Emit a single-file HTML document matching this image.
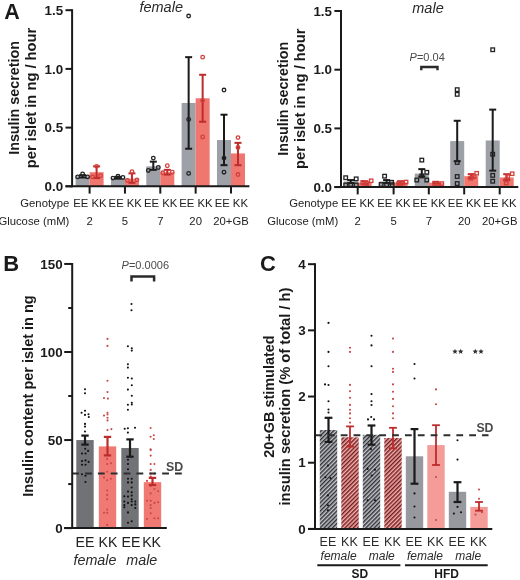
<!DOCTYPE html><html><head><meta charset="utf-8"><title>Figure</title>
<style>html,body{margin:0;padding:0;background:#fff;}svg{display:block;filter:blur(0.3px);}text{font-family:"Liberation Sans", sans-serif;}</style></head><body>
<svg width="520" height="580" viewBox="0 0 520 580">
<defs><pattern id="hg" patternUnits="userSpaceOnUse" width="2.95" height="10" patternTransform="rotate(45)"><rect width="2.95" height="10" fill="#c3c5cc"/><rect width="1.45" height="10" fill="#303135"/></pattern><pattern id="hr" patternUnits="userSpaceOnUse" width="2.95" height="10" patternTransform="rotate(45)"><rect width="2.95" height="10" fill="#f7b0ad"/><rect width="1.45" height="10" fill="#6e1d20"/></pattern></defs>
<rect width="520" height="580" fill="#fff"/>
<text x="4.20" y="19.30" font-size="21.5" text-anchor="start" font-weight="bold" font-style="normal" fill="#1a1a1a" >A</text>
<text x="3.20" y="271.30" font-size="22" text-anchor="start" font-weight="bold" font-style="normal" fill="#1a1a1a" >B</text>
<text x="260.00" y="271.20" font-size="22" text-anchor="start" font-weight="bold" font-style="normal" fill="#1a1a1a" >C</text>
<text x="18.90" y="97.95" font-size="14.2" text-anchor="middle" font-weight="bold" font-style="normal" fill="#1a1a1a" textLength="113.8" lengthAdjust="spacingAndGlyphs" transform="rotate(-90 18.90 97.95)">Insulin secretion</text>
<text x="36.30" y="97.95" font-size="14.2" text-anchor="middle" font-weight="bold" font-style="normal" fill="#1a1a1a" textLength="140.4" lengthAdjust="spacingAndGlyphs" transform="rotate(-90 36.30 97.95)">per islet in ng / hour</text>
<text x="161.20" y="12.40" font-size="14.5" text-anchor="middle" font-weight="normal" font-style="italic" fill="#2a2a2a" >female</text>
<text x="63.10" y="14.80" font-size="13.4" text-anchor="end" font-weight="bold" font-style="normal" fill="#1a1a1a" >1.5</text>
<text x="63.10" y="73.50" font-size="13.4" text-anchor="end" font-weight="bold" font-style="normal" fill="#1a1a1a" >1.0</text>
<text x="63.10" y="132.20" font-size="13.4" text-anchor="end" font-weight="bold" font-style="normal" fill="#1a1a1a" >0.5</text>
<text x="63.10" y="190.90" font-size="13.4" text-anchor="end" font-weight="bold" font-style="normal" fill="#1a1a1a" >0.0</text>
<text x="89.90" y="206.60" font-size="11.3" text-anchor="middle" font-weight="normal" font-style="normal" fill="#222" >EE KK</text>
<text x="125.25" y="206.60" font-size="11.3" text-anchor="middle" font-weight="normal" font-style="normal" fill="#222" >EE KK</text>
<text x="160.60" y="206.60" font-size="11.3" text-anchor="middle" font-weight="normal" font-style="normal" fill="#222" >EE KK</text>
<text x="195.95" y="206.60" font-size="11.3" text-anchor="middle" font-weight="normal" font-style="normal" fill="#222" >EE KK</text>
<text x="231.30" y="206.60" font-size="11.3" text-anchor="middle" font-weight="normal" font-style="normal" fill="#222" >EE KK</text>
<text x="89.60" y="225.40" font-size="11.3" text-anchor="middle" font-weight="normal" font-style="normal" fill="#222" >2</text>
<text x="124.95" y="225.40" font-size="11.3" text-anchor="middle" font-weight="normal" font-style="normal" fill="#222" >5</text>
<text x="160.30" y="225.40" font-size="11.3" text-anchor="middle" font-weight="normal" font-style="normal" fill="#222" >7</text>
<text x="195.65" y="225.40" font-size="11.3" text-anchor="middle" font-weight="normal" font-style="normal" fill="#222" >20</text>
<text x="231.00" y="225.40" font-size="11.3" text-anchor="middle" font-weight="normal" font-style="normal" fill="#222" >20+GB</text>
<text x="69.30" y="206.60" font-size="11.3" text-anchor="end" font-weight="normal" font-style="normal" fill="#222" >Genotype</text>
<text x="69.30" y="225.40" font-size="11.3" text-anchor="end" font-weight="normal" font-style="normal" fill="#222" >Glucose (mM)</text>
<rect x="75.60" y="176.32" width="14.00" height="9.98" fill="#9da0a6"/>
<rect x="89.60" y="172.21" width="14.00" height="14.09" fill="#f07770"/>
<rect x="110.95" y="177.85" width="14.00" height="8.45" fill="#9da0a6"/>
<rect x="124.95" y="178.67" width="14.00" height="7.63" fill="#f07770"/>
<rect x="146.30" y="166.34" width="14.00" height="19.96" fill="#9da0a6"/>
<rect x="160.30" y="172.21" width="14.00" height="14.09" fill="#f07770"/>
<rect x="181.65" y="102.95" width="14.00" height="83.35" fill="#9da0a6"/>
<rect x="195.65" y="98.25" width="14.00" height="88.05" fill="#f07770"/>
<rect x="217.00" y="140.04" width="14.00" height="46.26" fill="#9da0a6"/>
<rect x="231.00" y="153.43" width="14.00" height="32.87" fill="#f07770"/>
<line x1="82.60" y1="175.15" x2="82.60" y2="177.50" stroke="#1a1a1a" stroke-width="2.0" />
<line x1="79.10" y1="175.15" x2="86.10" y2="175.15" stroke="#1a1a1a" stroke-width="2.0" />
<line x1="79.10" y1="177.50" x2="86.10" y2="177.50" stroke="#1a1a1a" stroke-width="2.0" />
<line x1="96.60" y1="166.34" x2="96.60" y2="178.08" stroke="#bd2c2c" stroke-width="2.0" />
<line x1="93.10" y1="166.34" x2="100.10" y2="166.34" stroke="#bd2c2c" stroke-width="2.0" />
<line x1="93.10" y1="178.08" x2="100.10" y2="178.08" stroke="#bd2c2c" stroke-width="2.0" />
<line x1="117.95" y1="176.91" x2="117.95" y2="178.67" stroke="#1a1a1a" stroke-width="2.0" />
<line x1="114.45" y1="176.91" x2="121.45" y2="176.91" stroke="#1a1a1a" stroke-width="2.0" />
<line x1="114.45" y1="178.67" x2="121.45" y2="178.67" stroke="#1a1a1a" stroke-width="2.0" />
<line x1="131.95" y1="173.39" x2="131.95" y2="182.78" stroke="#bd2c2c" stroke-width="2.0" />
<line x1="128.45" y1="173.39" x2="135.45" y2="173.39" stroke="#bd2c2c" stroke-width="2.0" />
<line x1="128.45" y1="182.78" x2="135.45" y2="182.78" stroke="#bd2c2c" stroke-width="2.0" />
<line x1="153.30" y1="161.65" x2="153.30" y2="169.86" stroke="#1a1a1a" stroke-width="2.0" />
<line x1="149.80" y1="161.65" x2="156.80" y2="161.65" stroke="#1a1a1a" stroke-width="2.0" />
<line x1="149.80" y1="169.86" x2="156.80" y2="169.86" stroke="#1a1a1a" stroke-width="2.0" />
<line x1="167.30" y1="169.86" x2="167.30" y2="174.56" stroke="#bd2c2c" stroke-width="2.0" />
<line x1="163.80" y1="169.86" x2="170.80" y2="169.86" stroke="#bd2c2c" stroke-width="2.0" />
<line x1="163.80" y1="174.56" x2="170.80" y2="174.56" stroke="#bd2c2c" stroke-width="2.0" />
<line x1="188.65" y1="57.16" x2="188.65" y2="148.73" stroke="#1a1a1a" stroke-width="2.0" />
<line x1="185.15" y1="57.16" x2="192.15" y2="57.16" stroke="#1a1a1a" stroke-width="2.0" />
<line x1="185.15" y1="148.73" x2="192.15" y2="148.73" stroke="#1a1a1a" stroke-width="2.0" />
<line x1="202.65" y1="74.77" x2="202.65" y2="121.73" stroke="#bd2c2c" stroke-width="2.0" />
<line x1="199.15" y1="74.77" x2="206.15" y2="74.77" stroke="#bd2c2c" stroke-width="2.0" />
<line x1="199.15" y1="121.73" x2="206.15" y2="121.73" stroke="#bd2c2c" stroke-width="2.0" />
<line x1="224.00" y1="114.69" x2="224.00" y2="165.17" stroke="#1a1a1a" stroke-width="2.0" />
<line x1="220.50" y1="114.69" x2="227.50" y2="114.69" stroke="#1a1a1a" stroke-width="2.0" />
<line x1="220.50" y1="165.17" x2="227.50" y2="165.17" stroke="#1a1a1a" stroke-width="2.0" />
<line x1="238.00" y1="142.86" x2="238.00" y2="165.17" stroke="#bd2c2c" stroke-width="2.0" />
<line x1="234.50" y1="142.86" x2="241.50" y2="142.86" stroke="#bd2c2c" stroke-width="2.0" />
<line x1="234.50" y1="165.17" x2="241.50" y2="165.17" stroke="#bd2c2c" stroke-width="2.0" />
<circle cx="77.60" cy="176.91" r="1.8" fill="none" stroke="#222" stroke-width="1.3"/>
<circle cx="82.60" cy="173.97" r="1.8" fill="none" stroke="#222" stroke-width="1.3"/>
<circle cx="87.60" cy="176.91" r="1.8" fill="none" stroke="#222" stroke-width="1.3"/>
<circle cx="112.95" cy="178.08" r="1.8" fill="none" stroke="#222" stroke-width="1.3"/>
<circle cx="117.95" cy="176.32" r="1.8" fill="none" stroke="#222" stroke-width="1.3"/>
<circle cx="122.95" cy="177.50" r="1.8" fill="none" stroke="#222" stroke-width="1.3"/>
<circle cx="148.30" cy="170.45" r="1.8" fill="none" stroke="#222" stroke-width="1.3"/>
<circle cx="153.30" cy="158.12" r="1.8" fill="none" stroke="#222" stroke-width="1.3"/>
<circle cx="158.30" cy="167.52" r="1.8" fill="none" stroke="#222" stroke-width="1.3"/>
<circle cx="188.65" cy="16.07" r="1.8" fill="none" stroke="#222" stroke-width="1.3"/>
<circle cx="188.65" cy="119.38" r="1.8" fill="none" stroke="#222" stroke-width="1.3"/>
<circle cx="188.65" cy="173.39" r="1.8" fill="none" stroke="#222" stroke-width="1.3"/>
<circle cx="224.00" cy="90.03" r="1.8" fill="none" stroke="#222" stroke-width="1.3"/>
<circle cx="224.00" cy="158.12" r="1.8" fill="none" stroke="#222" stroke-width="1.3"/>
<circle cx="224.00" cy="172.21" r="1.8" fill="none" stroke="#222" stroke-width="1.3"/>
<circle cx="92.60" cy="176.91" r="1.8" fill="none" stroke="#d2403c" stroke-width="1.3"/>
<circle cx="96.60" cy="166.34" r="1.8" fill="none" stroke="#d2403c" stroke-width="1.3"/>
<circle cx="100.60" cy="175.73" r="1.8" fill="none" stroke="#d2403c" stroke-width="1.3"/>
<circle cx="127.45" cy="180.43" r="1.8" fill="none" stroke="#d2403c" stroke-width="1.3"/>
<circle cx="131.95" cy="171.62" r="1.8" fill="none" stroke="#d2403c" stroke-width="1.3"/>
<circle cx="136.95" cy="179.84" r="1.8" fill="none" stroke="#d2403c" stroke-width="1.3"/>
<circle cx="162.80" cy="172.80" r="1.8" fill="none" stroke="#d2403c" stroke-width="1.3"/>
<circle cx="167.30" cy="165.76" r="1.8" fill="none" stroke="#d2403c" stroke-width="1.3"/>
<circle cx="172.30" cy="172.21" r="1.8" fill="none" stroke="#d2403c" stroke-width="1.3"/>
<circle cx="202.65" cy="57.16" r="1.8" fill="none" stroke="#d2403c" stroke-width="1.3"/>
<circle cx="202.65" cy="136.99" r="1.8" fill="none" stroke="#d2403c" stroke-width="1.3"/>
<circle cx="202.65" cy="100.60" r="1.8" fill="none" stroke="#d2403c" stroke-width="1.3"/>
<circle cx="238.00" cy="137.58" r="1.8" fill="none" stroke="#d2403c" stroke-width="1.3"/>
<circle cx="238.00" cy="147.56" r="1.8" fill="none" stroke="#d2403c" stroke-width="1.3"/>
<circle cx="238.00" cy="174.56" r="1.8" fill="none" stroke="#d2403c" stroke-width="1.3"/>
<line x1="72.10" y1="9.20" x2="72.10" y2="187.30" stroke="#1a1a1a" stroke-width="2.0" />
<line x1="65.50" y1="10.20" x2="72.10" y2="10.20" stroke="#1a1a1a" stroke-width="2.0" />
<line x1="65.50" y1="68.90" x2="72.10" y2="68.90" stroke="#1a1a1a" stroke-width="2.0" />
<line x1="65.50" y1="127.60" x2="72.10" y2="127.60" stroke="#1a1a1a" stroke-width="2.0" />
<line x1="65.50" y1="186.30" x2="72.10" y2="186.30" stroke="#1a1a1a" stroke-width="2.0" />
<line x1="65.50" y1="186.30" x2="249.40" y2="186.30" stroke="#1a1a1a" stroke-width="2.0" />
<line x1="89.60" y1="186.30" x2="89.60" y2="193.60" stroke="#1a1a1a" stroke-width="2.0" />
<line x1="124.95" y1="186.30" x2="124.95" y2="193.60" stroke="#1a1a1a" stroke-width="2.0" />
<line x1="160.30" y1="186.30" x2="160.30" y2="193.60" stroke="#1a1a1a" stroke-width="2.0" />
<line x1="195.65" y1="186.30" x2="195.65" y2="193.60" stroke="#1a1a1a" stroke-width="2.0" />
<line x1="231.00" y1="186.30" x2="231.00" y2="193.60" stroke="#1a1a1a" stroke-width="2.0" />
<text x="287.80" y="98.75" font-size="14.2" text-anchor="middle" font-weight="bold" font-style="normal" fill="#1a1a1a" textLength="113.8" lengthAdjust="spacingAndGlyphs" transform="rotate(-90 287.80 98.75)">Insulin secretion</text>
<text x="305.20" y="98.75" font-size="14.2" text-anchor="middle" font-weight="bold" font-style="normal" fill="#1a1a1a" textLength="140.4" lengthAdjust="spacingAndGlyphs" transform="rotate(-90 305.20 98.75)">per islet in ng / hour</text>
<text x="428.00" y="13.00" font-size="14.5" text-anchor="middle" font-weight="normal" font-style="italic" fill="#2a2a2a" >male</text>
<text x="332.00" y="15.60" font-size="13.4" text-anchor="end" font-weight="bold" font-style="normal" fill="#1a1a1a" >1.5</text>
<text x="332.00" y="74.30" font-size="13.4" text-anchor="end" font-weight="bold" font-style="normal" fill="#1a1a1a" >1.0</text>
<text x="332.00" y="133.00" font-size="13.4" text-anchor="end" font-weight="bold" font-style="normal" fill="#1a1a1a" >0.5</text>
<text x="332.00" y="191.70" font-size="13.4" text-anchor="end" font-weight="bold" font-style="normal" fill="#1a1a1a" >0.0</text>
<text x="358.00" y="206.60" font-size="11.3" text-anchor="middle" font-weight="normal" font-style="normal" fill="#222" >EE KK</text>
<text x="393.90" y="206.60" font-size="11.3" text-anchor="middle" font-weight="normal" font-style="normal" fill="#222" >EE KK</text>
<text x="429.10" y="206.60" font-size="11.3" text-anchor="middle" font-weight="normal" font-style="normal" fill="#222" >EE KK</text>
<text x="464.50" y="206.60" font-size="11.3" text-anchor="middle" font-weight="normal" font-style="normal" fill="#222" >EE KK</text>
<text x="500.00" y="206.60" font-size="11.3" text-anchor="middle" font-weight="normal" font-style="normal" fill="#222" >EE KK</text>
<text x="357.70" y="225.40" font-size="11.3" text-anchor="middle" font-weight="normal" font-style="normal" fill="#222" >2</text>
<text x="393.60" y="225.40" font-size="11.3" text-anchor="middle" font-weight="normal" font-style="normal" fill="#222" >5</text>
<text x="428.80" y="225.40" font-size="11.3" text-anchor="middle" font-weight="normal" font-style="normal" fill="#222" >7</text>
<text x="464.20" y="225.40" font-size="11.3" text-anchor="middle" font-weight="normal" font-style="normal" fill="#222" >20</text>
<text x="499.70" y="225.40" font-size="11.3" text-anchor="middle" font-weight="normal" font-style="normal" fill="#222" >20+GB</text>
<text x="338.20" y="206.60" font-size="11.3" text-anchor="end" font-weight="normal" font-style="normal" fill="#222" >Genotype</text>
<text x="338.20" y="225.40" font-size="11.3" text-anchor="end" font-weight="normal" font-style="normal" fill="#222" >Glucose (mM)</text>
<rect x="343.70" y="181.46" width="14.00" height="5.64" fill="#9da0a6"/>
<rect x="357.70" y="182.64" width="14.00" height="4.46" fill="#f07770"/>
<rect x="379.60" y="181.46" width="14.00" height="5.64" fill="#9da0a6"/>
<rect x="393.60" y="182.40" width="14.00" height="4.70" fill="#f07770"/>
<rect x="414.80" y="173.60" width="14.00" height="13.50" fill="#9da0a6"/>
<rect x="428.80" y="182.76" width="14.00" height="4.34" fill="#f07770"/>
<rect x="450.20" y="141.08" width="14.00" height="46.02" fill="#9da0a6"/>
<rect x="464.20" y="176.18" width="14.00" height="10.92" fill="#f07770"/>
<rect x="485.70" y="140.49" width="14.00" height="46.61" fill="#9da0a6"/>
<rect x="499.70" y="177.47" width="14.00" height="9.63" fill="#f07770"/>
<line x1="350.70" y1="180.06" x2="350.70" y2="182.99" stroke="#1a1a1a" stroke-width="2.0" />
<line x1="347.20" y1="180.06" x2="354.20" y2="180.06" stroke="#1a1a1a" stroke-width="2.0" />
<line x1="347.20" y1="182.99" x2="354.20" y2="182.99" stroke="#1a1a1a" stroke-width="2.0" />
<line x1="364.70" y1="181.23" x2="364.70" y2="183.81" stroke="#bd2c2c" stroke-width="2.0" />
<line x1="361.20" y1="181.23" x2="368.20" y2="181.23" stroke="#bd2c2c" stroke-width="2.0" />
<line x1="361.20" y1="183.81" x2="368.20" y2="183.81" stroke="#bd2c2c" stroke-width="2.0" />
<line x1="386.60" y1="180.06" x2="386.60" y2="182.99" stroke="#1a1a1a" stroke-width="2.0" />
<line x1="383.10" y1="180.06" x2="390.10" y2="180.06" stroke="#1a1a1a" stroke-width="2.0" />
<line x1="383.10" y1="182.99" x2="390.10" y2="182.99" stroke="#1a1a1a" stroke-width="2.0" />
<line x1="400.60" y1="181.23" x2="400.60" y2="183.58" stroke="#bd2c2c" stroke-width="2.0" />
<line x1="397.10" y1="181.23" x2="404.10" y2="181.23" stroke="#bd2c2c" stroke-width="2.0" />
<line x1="397.10" y1="183.58" x2="404.10" y2="183.58" stroke="#bd2c2c" stroke-width="2.0" />
<line x1="421.80" y1="169.14" x2="421.80" y2="176.53" stroke="#1a1a1a" stroke-width="2.0" />
<line x1="418.30" y1="169.14" x2="425.30" y2="169.14" stroke="#1a1a1a" stroke-width="2.0" />
<line x1="418.30" y1="176.53" x2="425.30" y2="176.53" stroke="#1a1a1a" stroke-width="2.0" />
<line x1="435.80" y1="181.82" x2="435.80" y2="183.58" stroke="#bd2c2c" stroke-width="2.0" />
<line x1="432.30" y1="181.82" x2="439.30" y2="181.82" stroke="#bd2c2c" stroke-width="2.0" />
<line x1="432.30" y1="183.58" x2="439.30" y2="183.58" stroke="#bd2c2c" stroke-width="2.0" />
<line x1="457.20" y1="120.77" x2="457.20" y2="161.27" stroke="#1a1a1a" stroke-width="2.0" />
<line x1="453.70" y1="120.77" x2="460.70" y2="120.77" stroke="#1a1a1a" stroke-width="2.0" />
<line x1="453.70" y1="161.27" x2="460.70" y2="161.27" stroke="#1a1a1a" stroke-width="2.0" />
<line x1="471.20" y1="174.19" x2="471.20" y2="178.29" stroke="#bd2c2c" stroke-width="2.0" />
<line x1="467.70" y1="174.19" x2="474.70" y2="174.19" stroke="#bd2c2c" stroke-width="2.0" />
<line x1="467.70" y1="178.29" x2="474.70" y2="178.29" stroke="#bd2c2c" stroke-width="2.0" />
<line x1="492.70" y1="109.62" x2="492.70" y2="170.66" stroke="#1a1a1a" stroke-width="2.0" />
<line x1="489.20" y1="109.62" x2="496.20" y2="109.62" stroke="#1a1a1a" stroke-width="2.0" />
<line x1="489.20" y1="170.66" x2="496.20" y2="170.66" stroke="#1a1a1a" stroke-width="2.0" />
<line x1="506.70" y1="174.19" x2="506.70" y2="180.06" stroke="#bd2c2c" stroke-width="2.0" />
<line x1="503.20" y1="174.19" x2="510.20" y2="174.19" stroke="#bd2c2c" stroke-width="2.0" />
<line x1="503.20" y1="180.06" x2="510.20" y2="180.06" stroke="#bd2c2c" stroke-width="2.0" />
<rect x="343.90" y="175.91" width="3.6" height="3.6" fill="none" stroke="#222" stroke-width="1.3"/>
<rect x="354.40" y="177.08" width="3.6" height="3.6" fill="none" stroke="#222" stroke-width="1.3"/>
<rect x="343.90" y="183.19" width="3.6" height="3.6" fill="none" stroke="#222" stroke-width="1.3"/>
<rect x="348.90" y="182.72" width="3.6" height="3.6" fill="none" stroke="#222" stroke-width="1.3"/>
<rect x="354.40" y="183.19" width="3.6" height="3.6" fill="none" stroke="#222" stroke-width="1.3"/>
<rect x="382.80" y="174.38" width="3.6" height="3.6" fill="none" stroke="#222" stroke-width="1.3"/>
<rect x="389.80" y="180.49" width="3.6" height="3.6" fill="none" stroke="#222" stroke-width="1.3"/>
<rect x="379.30" y="182.72" width="3.6" height="3.6" fill="none" stroke="#222" stroke-width="1.3"/>
<rect x="384.80" y="182.95" width="3.6" height="3.6" fill="none" stroke="#222" stroke-width="1.3"/>
<rect x="390.30" y="182.95" width="3.6" height="3.6" fill="none" stroke="#222" stroke-width="1.3"/>
<rect x="420.00" y="158.30" width="3.6" height="3.6" fill="none" stroke="#222" stroke-width="1.3"/>
<rect x="425.00" y="170.51" width="3.6" height="3.6" fill="none" stroke="#222" stroke-width="1.3"/>
<rect x="415.00" y="178.26" width="3.6" height="3.6" fill="none" stroke="#222" stroke-width="1.3"/>
<rect x="425.00" y="178.26" width="3.6" height="3.6" fill="none" stroke="#222" stroke-width="1.3"/>
<rect x="420.00" y="174.15" width="3.6" height="3.6" fill="none" stroke="#222" stroke-width="1.3"/>
<rect x="455.40" y="87.86" width="3.6" height="3.6" fill="none" stroke="#222" stroke-width="1.3"/>
<rect x="455.40" y="92.55" width="3.6" height="3.6" fill="none" stroke="#222" stroke-width="1.3"/>
<rect x="455.40" y="160.65" width="3.6" height="3.6" fill="none" stroke="#222" stroke-width="1.3"/>
<rect x="455.40" y="174.73" width="3.6" height="3.6" fill="none" stroke="#222" stroke-width="1.3"/>
<rect x="455.40" y="181.78" width="3.6" height="3.6" fill="none" stroke="#222" stroke-width="1.3"/>
<rect x="490.90" y="47.94" width="3.6" height="3.6" fill="none" stroke="#222" stroke-width="1.3"/>
<rect x="490.90" y="152.43" width="3.6" height="3.6" fill="none" stroke="#222" stroke-width="1.3"/>
<rect x="490.90" y="173.56" width="3.6" height="3.6" fill="none" stroke="#222" stroke-width="1.3"/>
<rect x="490.90" y="179.43" width="3.6" height="3.6" fill="none" stroke="#222" stroke-width="1.3"/>
<rect x="369.50" y="179.06" width="3.4" height="3.4" fill="none" stroke="#d2403c" stroke-width="1.3"/>
<rect x="361.00" y="180.70" width="3.4" height="3.4" fill="none" stroke="#d2403c" stroke-width="1.3"/>
<rect x="365.00" y="181.88" width="3.4" height="3.4" fill="none" stroke="#d2403c" stroke-width="1.3"/>
<rect x="363.00" y="183.05" width="3.4" height="3.4" fill="none" stroke="#d2403c" stroke-width="1.3"/>
<rect x="404.40" y="180.35" width="3.4" height="3.4" fill="none" stroke="#d2403c" stroke-width="1.3"/>
<rect x="396.90" y="181.88" width="3.4" height="3.4" fill="none" stroke="#d2403c" stroke-width="1.3"/>
<rect x="400.90" y="181.29" width="3.4" height="3.4" fill="none" stroke="#d2403c" stroke-width="1.3"/>
<rect x="398.90" y="183.05" width="3.4" height="3.4" fill="none" stroke="#d2403c" stroke-width="1.3"/>
<rect x="440.10" y="181.88" width="3.4" height="3.4" fill="none" stroke="#d2403c" stroke-width="1.3"/>
<rect x="433.10" y="182.23" width="3.4" height="3.4" fill="none" stroke="#d2403c" stroke-width="1.3"/>
<rect x="436.10" y="182.47" width="3.4" height="3.4" fill="none" stroke="#d2403c" stroke-width="1.3"/>
<rect x="475.00" y="171.55" width="3.4" height="3.4" fill="none" stroke="#d2403c" stroke-width="1.3"/>
<rect x="469.00" y="176.59" width="3.4" height="3.4" fill="none" stroke="#d2403c" stroke-width="1.3"/>
<rect x="470.50" y="173.66" width="3.4" height="3.4" fill="none" stroke="#d2403c" stroke-width="1.3"/>
<rect x="472.50" y="174.83" width="3.4" height="3.4" fill="none" stroke="#d2403c" stroke-width="1.3"/>
<rect x="510.50" y="172.02" width="3.4" height="3.4" fill="none" stroke="#d2403c" stroke-width="1.3"/>
<rect x="504.50" y="178.36" width="3.4" height="3.4" fill="none" stroke="#d2403c" stroke-width="1.3"/>
<rect x="506.00" y="174.83" width="3.4" height="3.4" fill="none" stroke="#d2403c" stroke-width="1.3"/>
<rect x="504.50" y="181.29" width="3.4" height="3.4" fill="none" stroke="#d2403c" stroke-width="1.3"/>
<line x1="341.00" y1="10.00" x2="341.00" y2="188.10" stroke="#1a1a1a" stroke-width="2.0" />
<line x1="334.40" y1="11.00" x2="341.00" y2="11.00" stroke="#1a1a1a" stroke-width="2.0" />
<line x1="334.40" y1="69.70" x2="341.00" y2="69.70" stroke="#1a1a1a" stroke-width="2.0" />
<line x1="334.40" y1="128.40" x2="341.00" y2="128.40" stroke="#1a1a1a" stroke-width="2.0" />
<line x1="334.40" y1="187.10" x2="341.00" y2="187.10" stroke="#1a1a1a" stroke-width="2.0" />
<line x1="334.40" y1="187.10" x2="518.30" y2="187.10" stroke="#1a1a1a" stroke-width="2.0" />
<line x1="357.70" y1="187.10" x2="357.70" y2="194.40" stroke="#1a1a1a" stroke-width="2.0" />
<line x1="393.60" y1="187.10" x2="393.60" y2="194.40" stroke="#1a1a1a" stroke-width="2.0" />
<line x1="428.80" y1="187.10" x2="428.80" y2="194.40" stroke="#1a1a1a" stroke-width="2.0" />
<line x1="464.20" y1="187.10" x2="464.20" y2="194.40" stroke="#1a1a1a" stroke-width="2.0" />
<line x1="499.70" y1="187.10" x2="499.70" y2="194.40" stroke="#1a1a1a" stroke-width="2.0" />
<text x="409.60" y="60.70" font-size="11" text-anchor="start" font-weight="normal" font-style="normal" fill="#4a4a4a" ><tspan font-style="italic">P</tspan>=0.04</text>
<path d="M421.3,70.2 V67.0 H437.5 V70.2" fill="none" stroke="#2a2a2a" stroke-width="2.4"/>
<text x="33.20" y="396.03" font-size="14.2" text-anchor="middle" font-weight="bold" font-style="normal" fill="#1a1a1a" textLength="201.5" lengthAdjust="spacingAndGlyphs" transform="rotate(-90 33.20 396.03)">Insulin content per islet in ng</text>
<text x="62.60" y="268.55" font-size="13.4" text-anchor="end" font-weight="bold" font-style="normal" fill="#1a1a1a" >150</text>
<text x="62.60" y="356.60" font-size="13.4" text-anchor="end" font-weight="bold" font-style="normal" fill="#1a1a1a" >100</text>
<text x="62.60" y="444.65" font-size="13.4" text-anchor="end" font-weight="bold" font-style="normal" fill="#1a1a1a" >50</text>
<text x="62.60" y="532.70" font-size="13.4" text-anchor="end" font-weight="bold" font-style="normal" fill="#1a1a1a" >0</text>
<rect x="76.30" y="440.05" width="17.40" height="88.05" fill="#717275"/>
<rect x="98.80" y="446.39" width="17.40" height="81.71" fill="#f07a73"/>
<rect x="121.30" y="447.97" width="17.40" height="80.13" fill="#717275"/>
<rect x="143.80" y="482.14" width="17.40" height="45.96" fill="#f07a73"/>
<circle cx="85.00" cy="389.30" r="1.05" fill="#111"/>
<circle cx="85.00" cy="393.20" r="1.05" fill="#111"/>
<circle cx="85.00" cy="410.70" r="1.05" fill="#111"/>
<circle cx="81.60" cy="412.80" r="1.05" fill="#111"/>
<circle cx="85.00" cy="414.90" r="1.05" fill="#111"/>
<circle cx="88.50" cy="414.20" r="1.05" fill="#111"/>
<circle cx="88.80" cy="417.00" r="1.05" fill="#111"/>
<circle cx="85.00" cy="423.90" r="1.05" fill="#111"/>
<circle cx="85.00" cy="426.60" r="1.05" fill="#111"/>
<circle cx="85.00" cy="431.50" r="1.05" fill="#111"/>
<circle cx="85.20" cy="448.70" r="1.05" fill="#111"/>
<circle cx="88.10" cy="450.90" r="1.05" fill="#111"/>
<circle cx="82.00" cy="453.50" r="1.05" fill="#111"/>
<circle cx="85.50" cy="453.50" r="1.05" fill="#111"/>
<circle cx="82.00" cy="461.10" r="1.05" fill="#111"/>
<circle cx="85.50" cy="460.40" r="1.05" fill="#111"/>
<circle cx="88.60" cy="461.90" r="1.05" fill="#111"/>
<circle cx="82.00" cy="464.80" r="1.05" fill="#111"/>
<circle cx="85.50" cy="464.80" r="1.05" fill="#111"/>
<circle cx="82.00" cy="474.30" r="1.05" fill="#111"/>
<circle cx="85.50" cy="475.80" r="1.05" fill="#111"/>
<circle cx="85.50" cy="482.00" r="1.05" fill="#111"/>
<circle cx="107.50" cy="338.90" r="1.05" fill="#c94848"/>
<circle cx="107.50" cy="345.90" r="1.05" fill="#c94848"/>
<circle cx="107.50" cy="380.80" r="1.05" fill="#c94848"/>
<circle cx="107.50" cy="392.10" r="1.05" fill="#c94848"/>
<circle cx="104.00" cy="398.00" r="1.05" fill="#c94848"/>
<circle cx="107.90" cy="398.60" r="1.05" fill="#c94848"/>
<circle cx="107.50" cy="412.80" r="1.05" fill="#c94848"/>
<circle cx="107.50" cy="414.50" r="1.05" fill="#c94848"/>
<circle cx="104.00" cy="415.60" r="1.05" fill="#c94848"/>
<circle cx="107.50" cy="417.70" r="1.05" fill="#c94848"/>
<circle cx="107.50" cy="420.40" r="1.05" fill="#c94848"/>
<circle cx="107.50" cy="430.10" r="1.05" fill="#c94848"/>
<circle cx="111.40" cy="429.10" r="1.05" fill="#c94848"/>
<circle cx="107.20" cy="458.90" r="1.05" fill="#c94848"/>
<circle cx="107.20" cy="464.00" r="1.05" fill="#c94848"/>
<circle cx="110.90" cy="463.30" r="1.05" fill="#c94848"/>
<circle cx="107.20" cy="471.70" r="1.05" fill="#c94848"/>
<circle cx="104.00" cy="477.60" r="1.05" fill="#c94848"/>
<circle cx="107.20" cy="480.20" r="1.05" fill="#c94848"/>
<circle cx="110.90" cy="478.70" r="1.05" fill="#c94848"/>
<circle cx="107.20" cy="490.50" r="1.05" fill="#c94848"/>
<circle cx="107.20" cy="494.90" r="1.05" fill="#c94848"/>
<circle cx="107.20" cy="499.30" r="1.05" fill="#c94848"/>
<circle cx="107.20" cy="509.50" r="1.05" fill="#c94848"/>
<circle cx="104.00" cy="512.70" r="1.05" fill="#c94848"/>
<circle cx="107.20" cy="512.70" r="1.05" fill="#c94848"/>
<circle cx="107.20" cy="524.90" r="1.05" fill="#c94848"/>
<circle cx="131.50" cy="304.00" r="1.05" fill="#111"/>
<circle cx="131.50" cy="310.20" r="1.05" fill="#111"/>
<circle cx="127.90" cy="346.20" r="1.05" fill="#111"/>
<circle cx="131.80" cy="348.20" r="1.05" fill="#111"/>
<circle cx="131.80" cy="350.60" r="1.05" fill="#111"/>
<circle cx="127.90" cy="364.20" r="1.05" fill="#111"/>
<circle cx="127.90" cy="367.60" r="1.05" fill="#111"/>
<circle cx="127.90" cy="377.70" r="1.05" fill="#111"/>
<circle cx="131.80" cy="378.50" r="1.05" fill="#111"/>
<circle cx="131.80" cy="385.30" r="1.05" fill="#111"/>
<circle cx="127.90" cy="389.60" r="1.05" fill="#111"/>
<circle cx="131.80" cy="395.70" r="1.05" fill="#111"/>
<circle cx="131.80" cy="402.80" r="1.05" fill="#111"/>
<circle cx="131.80" cy="404.50" r="1.05" fill="#111"/>
<circle cx="127.90" cy="404.80" r="1.05" fill="#111"/>
<circle cx="127.90" cy="409.70" r="1.05" fill="#111"/>
<circle cx="124.70" cy="428.70" r="1.05" fill="#111"/>
<circle cx="127.90" cy="428.30" r="1.05" fill="#111"/>
<circle cx="135.00" cy="427.80" r="1.05" fill="#111"/>
<circle cx="127.90" cy="432.60" r="1.05" fill="#111"/>
<circle cx="128.00" cy="459.70" r="1.05" fill="#111"/>
<circle cx="128.00" cy="464.00" r="1.05" fill="#111"/>
<circle cx="128.00" cy="469.20" r="1.05" fill="#111"/>
<circle cx="128.00" cy="478.70" r="1.05" fill="#111"/>
<circle cx="131.70" cy="478.70" r="1.05" fill="#111"/>
<circle cx="128.00" cy="482.40" r="1.05" fill="#111"/>
<circle cx="131.70" cy="482.40" r="1.05" fill="#111"/>
<circle cx="131.70" cy="487.50" r="1.05" fill="#111"/>
<circle cx="128.00" cy="491.60" r="1.05" fill="#111"/>
<circle cx="131.70" cy="492.20" r="1.05" fill="#111"/>
<circle cx="131.70" cy="495.60" r="1.05" fill="#111"/>
<circle cx="124.30" cy="496.30" r="1.05" fill="#111"/>
<circle cx="128.00" cy="496.60" r="1.05" fill="#111"/>
<circle cx="131.70" cy="499.30" r="1.05" fill="#111"/>
<circle cx="124.30" cy="501.50" r="1.05" fill="#111"/>
<circle cx="131.70" cy="501.50" r="1.05" fill="#111"/>
<circle cx="135.30" cy="501.50" r="1.05" fill="#111"/>
<circle cx="128.00" cy="502.90" r="1.05" fill="#111"/>
<circle cx="135.30" cy="504.40" r="1.05" fill="#111"/>
<circle cx="124.30" cy="505.10" r="1.05" fill="#111"/>
<circle cx="131.70" cy="505.10" r="1.05" fill="#111"/>
<circle cx="124.30" cy="507.30" r="1.05" fill="#111"/>
<circle cx="135.30" cy="508.00" r="1.05" fill="#111"/>
<circle cx="128.00" cy="512.40" r="1.05" fill="#111"/>
<circle cx="131.70" cy="521.20" r="1.05" fill="#111"/>
<circle cx="128.00" cy="522.70" r="1.05" fill="#111"/>
<circle cx="150.60" cy="428.00" r="1.05" fill="#c94848"/>
<circle cx="150.60" cy="436.80" r="1.05" fill="#c94848"/>
<circle cx="153.80" cy="435.20" r="1.05" fill="#c94848"/>
<circle cx="153.80" cy="439.00" r="1.05" fill="#c94848"/>
<circle cx="150.60" cy="449.40" r="1.05" fill="#c94848"/>
<circle cx="150.70" cy="450.10" r="1.05" fill="#c94848"/>
<circle cx="150.70" cy="455.60" r="1.05" fill="#c94848"/>
<circle cx="150.70" cy="464.00" r="1.05" fill="#c94848"/>
<circle cx="154.40" cy="464.00" r="1.05" fill="#c94848"/>
<circle cx="150.70" cy="469.90" r="1.05" fill="#c94848"/>
<circle cx="150.70" cy="473.60" r="1.05" fill="#c94848"/>
<circle cx="154.40" cy="473.60" r="1.05" fill="#c94848"/>
<circle cx="150.70" cy="476.50" r="1.05" fill="#c94848"/>
<circle cx="147.00" cy="480.90" r="1.05" fill="#c94848"/>
<circle cx="150.70" cy="486.10" r="1.05" fill="#c94848"/>
<circle cx="154.40" cy="489.00" r="1.05" fill="#c94848"/>
<circle cx="158.10" cy="491.20" r="1.05" fill="#c94848"/>
<circle cx="150.70" cy="493.40" r="1.05" fill="#c94848"/>
<circle cx="147.00" cy="500.70" r="1.05" fill="#c94848"/>
<circle cx="150.70" cy="500.70" r="1.05" fill="#c94848"/>
<circle cx="158.10" cy="502.20" r="1.05" fill="#c94848"/>
<circle cx="154.40" cy="502.90" r="1.05" fill="#c94848"/>
<circle cx="150.70" cy="505.10" r="1.05" fill="#c94848"/>
<circle cx="150.70" cy="508.00" r="1.05" fill="#c94848"/>
<circle cx="150.70" cy="513.20" r="1.05" fill="#c94848"/>
<circle cx="154.40" cy="518.30" r="1.05" fill="#c94848"/>
<circle cx="158.10" cy="518.30" r="1.05" fill="#c94848"/>
<circle cx="147.00" cy="519.00" r="1.05" fill="#c94848"/>
<line x1="85.00" y1="435.60" x2="85.00" y2="444.60" stroke="#1a1a1a" stroke-width="2.2" />
<line x1="81.30" y1="435.60" x2="88.70" y2="435.60" stroke="#1a1a1a" stroke-width="2.2" />
<line x1="81.30" y1="444.60" x2="88.70" y2="444.60" stroke="#1a1a1a" stroke-width="2.2" />
<line x1="107.50" y1="436.90" x2="107.50" y2="455.40" stroke="#bd2c2c" stroke-width="2.2" />
<line x1="103.80" y1="436.90" x2="111.20" y2="436.90" stroke="#bd2c2c" stroke-width="2.2" />
<line x1="103.80" y1="455.40" x2="111.20" y2="455.40" stroke="#bd2c2c" stroke-width="2.2" />
<line x1="130.00" y1="439.40" x2="130.00" y2="456.70" stroke="#1a1a1a" stroke-width="2.2" />
<line x1="126.30" y1="439.40" x2="133.70" y2="439.40" stroke="#1a1a1a" stroke-width="2.2" />
<line x1="126.30" y1="456.70" x2="133.70" y2="456.70" stroke="#1a1a1a" stroke-width="2.2" />
<line x1="152.50" y1="477.90" x2="152.50" y2="485.00" stroke="#bd2c2c" stroke-width="2.2" />
<line x1="148.80" y1="477.90" x2="156.20" y2="477.90" stroke="#bd2c2c" stroke-width="2.2" />
<line x1="148.80" y1="485.00" x2="156.20" y2="485.00" stroke="#bd2c2c" stroke-width="2.2" />
<line x1="72.20" y1="473.60" x2="182.00" y2="473.60" stroke="#2e2e2e" stroke-width="2.0" stroke-dasharray="6.8 6.05"/>
<text x="165.90" y="471.20" font-size="12.4" text-anchor="start" font-weight="bold" font-style="normal" fill="#4a4a4a" >SD</text>
<text x="121.60" y="268.80" font-size="11" text-anchor="start" font-weight="normal" font-style="normal" fill="#4a4a4a" ><tspan font-style="italic">P</tspan>=0.0006</text>
<path d="M131.5,281.4 V276.4 H154.1 V281.4" fill="none" stroke="#2a2a2a" stroke-width="2.5"/>
<line x1="72.20" y1="262.95" x2="72.20" y2="529.10" stroke="#1a1a1a" stroke-width="2.0" />
<line x1="64.20" y1="263.95" x2="72.20" y2="263.95" stroke="#1a1a1a" stroke-width="2.0" />
<line x1="64.20" y1="352.00" x2="72.20" y2="352.00" stroke="#1a1a1a" stroke-width="2.0" />
<line x1="64.20" y1="440.05" x2="72.20" y2="440.05" stroke="#1a1a1a" stroke-width="2.0" />
<line x1="64.20" y1="528.10" x2="72.20" y2="528.10" stroke="#1a1a1a" stroke-width="2.0" />
<line x1="68.20" y1="307.98" x2="72.20" y2="307.98" stroke="#1a1a1a" stroke-width="2.0" />
<line x1="68.20" y1="396.03" x2="72.20" y2="396.03" stroke="#1a1a1a" stroke-width="2.0" />
<line x1="68.20" y1="484.08" x2="72.20" y2="484.08" stroke="#1a1a1a" stroke-width="2.0" />
<line x1="64.20" y1="528.10" x2="166.80" y2="528.10" stroke="#1a1a1a" stroke-width="2.0" />
<text x="85.00" y="547.30" font-size="14.2" text-anchor="middle" font-weight="normal" font-style="normal" fill="#222" >EE</text>
<text x="107.90" y="547.30" font-size="14.2" text-anchor="middle" font-weight="normal" font-style="normal" fill="#222" >KK</text>
<text x="130.90" y="547.30" font-size="14.2" text-anchor="middle" font-weight="normal" font-style="normal" fill="#222" >EE</text>
<text x="151.60" y="547.30" font-size="14.2" text-anchor="middle" font-weight="normal" font-style="normal" fill="#222" >KK</text>
<text x="95.00" y="565.00" font-size="14.3" text-anchor="middle" font-weight="normal" font-style="italic" fill="#2a2a2a" >female</text>
<text x="141.80" y="565.00" font-size="14.3" text-anchor="middle" font-weight="normal" font-style="italic" fill="#2a2a2a" >male</text>
<text x="273.80" y="396.54" font-size="14.0" text-anchor="middle" font-weight="bold" font-style="normal" fill="#1a1a1a" textLength="122.4" lengthAdjust="spacingAndGlyphs" transform="rotate(-90 273.8 396.54)">20+GB stimulated</text>
<text x="290.40" y="396.54" font-size="14.0" text-anchor="middle" font-weight="bold" font-style="normal" fill="#1a1a1a" textLength="217.9" lengthAdjust="spacingAndGlyphs" transform="rotate(-90 290.4 396.54)">insulin secretion (% of total / h)</text>
<text x="305.60" y="268.78" font-size="13.4" text-anchor="end" font-weight="bold" font-style="normal" fill="#1a1a1a" >4</text>
<text x="305.60" y="334.96" font-size="13.4" text-anchor="end" font-weight="bold" font-style="normal" fill="#1a1a1a" >3</text>
<text x="305.60" y="401.14" font-size="13.4" text-anchor="end" font-weight="bold" font-style="normal" fill="#1a1a1a" >2</text>
<text x="305.60" y="467.32" font-size="13.4" text-anchor="end" font-weight="bold" font-style="normal" fill="#1a1a1a" >1</text>
<text x="305.60" y="533.50" font-size="13.4" text-anchor="end" font-weight="bold" font-style="normal" fill="#1a1a1a" >0</text>
<rect x="319.80" y="430.00" width="17.40" height="98.90" fill="url(#hg)"/>
<rect x="341.30" y="437.30" width="17.40" height="91.60" fill="url(#hr)"/>
<rect x="362.80" y="434.80" width="17.40" height="94.10" fill="url(#hg)"/>
<rect x="384.30" y="438.00" width="17.40" height="90.90" fill="url(#hr)"/>
<rect x="405.80" y="456.30" width="17.40" height="72.60" fill="#97999e"/>
<rect x="427.30" y="445.10" width="17.40" height="83.80" fill="#f49c97"/>
<rect x="448.80" y="491.80" width="17.40" height="37.10" fill="#97999e"/>
<rect x="470.30" y="506.90" width="17.40" height="22.00" fill="#f49c97"/>
<circle cx="328.50" cy="322.90" r="1.05" fill="#111"/>
<circle cx="328.50" cy="351.90" r="1.05" fill="#111"/>
<circle cx="328.50" cy="366.30" r="1.05" fill="#111"/>
<circle cx="325.00" cy="384.40" r="1.05" fill="#111"/>
<circle cx="328.50" cy="385.00" r="1.05" fill="#111"/>
<circle cx="328.50" cy="401.30" r="1.05" fill="#111"/>
<circle cx="328.50" cy="409.50" r="1.05" fill="#111"/>
<circle cx="328.50" cy="412.50" r="1.05" fill="#111"/>
<circle cx="327.90" cy="465.60" r="1.05" fill="#111"/>
<circle cx="325.40" cy="477.20" r="1.05" fill="#111"/>
<circle cx="330.40" cy="478.00" r="1.05" fill="#111"/>
<circle cx="327.90" cy="495.40" r="1.05" fill="#111"/>
<circle cx="327.90" cy="505.30" r="1.05" fill="#111"/>
<circle cx="327.90" cy="510.20" r="1.05" fill="#111"/>
<circle cx="350.00" cy="347.80" r="1.05" fill="#c94848"/>
<circle cx="350.00" cy="351.90" r="1.05" fill="#c94848"/>
<circle cx="350.00" cy="384.90" r="1.05" fill="#c94848"/>
<circle cx="350.00" cy="391.20" r="1.05" fill="#c94848"/>
<circle cx="350.00" cy="397.70" r="1.05" fill="#c94848"/>
<circle cx="350.00" cy="404.90" r="1.05" fill="#c94848"/>
<circle cx="350.00" cy="409.80" r="1.05" fill="#c94848"/>
<circle cx="350.00" cy="413.40" r="1.05" fill="#c94848"/>
<circle cx="350.00" cy="418.20" r="1.05" fill="#c94848"/>
<circle cx="350.00" cy="422.60" r="1.05" fill="#c94848"/>
<circle cx="371.50" cy="335.70" r="1.05" fill="#111"/>
<circle cx="371.50" cy="345.40" r="1.05" fill="#111"/>
<circle cx="371.50" cy="366.30" r="1.05" fill="#111"/>
<circle cx="371.50" cy="394.10" r="1.05" fill="#111"/>
<circle cx="371.50" cy="401.30" r="1.05" fill="#111"/>
<circle cx="371.50" cy="405.00" r="1.05" fill="#111"/>
<circle cx="371.20" cy="417.00" r="1.05" fill="#111"/>
<circle cx="368.00" cy="419.40" r="1.05" fill="#111"/>
<circle cx="374.00" cy="419.40" r="1.05" fill="#111"/>
<circle cx="370.90" cy="449.10" r="1.05" fill="#111"/>
<circle cx="367.60" cy="468.90" r="1.05" fill="#111"/>
<circle cx="375.00" cy="469.80" r="1.05" fill="#111"/>
<circle cx="371.70" cy="475.50" r="1.05" fill="#111"/>
<circle cx="367.60" cy="500.30" r="1.05" fill="#111"/>
<circle cx="375.00" cy="500.30" r="1.05" fill="#111"/>
<circle cx="393.00" cy="338.60" r="1.05" fill="#c94848"/>
<circle cx="393.00" cy="351.90" r="1.05" fill="#c94848"/>
<circle cx="393.00" cy="368.80" r="1.05" fill="#c94848"/>
<circle cx="393.00" cy="371.90" r="1.05" fill="#c94848"/>
<circle cx="393.00" cy="384.40" r="1.05" fill="#c94848"/>
<circle cx="393.00" cy="391.70" r="1.05" fill="#c94848"/>
<circle cx="393.00" cy="398.90" r="1.05" fill="#c94848"/>
<circle cx="393.00" cy="406.20" r="1.05" fill="#c94848"/>
<circle cx="393.00" cy="413.40" r="1.05" fill="#c94848"/>
<circle cx="393.00" cy="418.20" r="1.05" fill="#c94848"/>
<circle cx="414.50" cy="364.00" r="1.05" fill="#111"/>
<circle cx="414.50" cy="378.50" r="1.05" fill="#111"/>
<circle cx="414.50" cy="493.40" r="1.05" fill="#111"/>
<circle cx="414.50" cy="506.50" r="1.05" fill="#111"/>
<circle cx="414.50" cy="517.50" r="1.05" fill="#111"/>
<circle cx="436.00" cy="389.40" r="1.05" fill="#c94848"/>
<circle cx="436.00" cy="404.30" r="1.05" fill="#c94848"/>
<circle cx="436.00" cy="477.00" r="1.05" fill="#c94848"/>
<circle cx="436.00" cy="520.00" r="1.05" fill="#c94848"/>
<circle cx="457.50" cy="440.30" r="1.05" fill="#111"/>
<circle cx="457.50" cy="459.60" r="1.05" fill="#111"/>
<circle cx="457.50" cy="506.90" r="1.05" fill="#111"/>
<circle cx="453.90" cy="513.60" r="1.05" fill="#111"/>
<circle cx="461.00" cy="512.30" r="1.05" fill="#111"/>
<circle cx="479.00" cy="489.50" r="1.05" fill="#c94848"/>
<circle cx="479.00" cy="498.80" r="1.05" fill="#c94848"/>
<circle cx="475.50" cy="514.60" r="1.05" fill="#c94848"/>
<circle cx="482.00" cy="512.30" r="1.05" fill="#c94848"/>
<line x1="328.50" y1="417.80" x2="328.50" y2="441.90" stroke="#1a1a1a" stroke-width="2.2" />
<line x1="324.60" y1="417.80" x2="332.40" y2="417.80" stroke="#1a1a1a" stroke-width="2.2" />
<line x1="324.60" y1="441.90" x2="332.40" y2="441.90" stroke="#1a1a1a" stroke-width="2.2" />
<line x1="350.00" y1="426.40" x2="350.00" y2="446.60" stroke="#bd2c2c" stroke-width="1.8" />
<line x1="346.10" y1="426.40" x2="353.90" y2="426.40" stroke="#bd2c2c" stroke-width="1.8" />
<line x1="346.10" y1="446.60" x2="353.90" y2="446.60" stroke="#bd2c2c" stroke-width="1.8" />
<line x1="371.50" y1="425.50" x2="371.50" y2="444.70" stroke="#1a1a1a" stroke-width="2.2" />
<line x1="367.60" y1="425.50" x2="375.40" y2="425.50" stroke="#1a1a1a" stroke-width="2.2" />
<line x1="367.60" y1="444.70" x2="375.40" y2="444.70" stroke="#1a1a1a" stroke-width="2.2" />
<line x1="393.00" y1="427.80" x2="393.00" y2="448.30" stroke="#bd2c2c" stroke-width="1.8" />
<line x1="389.10" y1="427.80" x2="396.90" y2="427.80" stroke="#bd2c2c" stroke-width="1.8" />
<line x1="389.10" y1="448.30" x2="396.90" y2="448.30" stroke="#bd2c2c" stroke-width="1.8" />
<line x1="414.50" y1="429.10" x2="414.50" y2="483.70" stroke="#1a1a1a" stroke-width="2.2" />
<line x1="410.60" y1="429.10" x2="418.40" y2="429.10" stroke="#1a1a1a" stroke-width="2.2" />
<line x1="410.60" y1="483.70" x2="418.40" y2="483.70" stroke="#1a1a1a" stroke-width="2.2" />
<line x1="436.00" y1="425.20" x2="436.00" y2="465.00" stroke="#bd2c2c" stroke-width="1.8" />
<line x1="432.10" y1="425.20" x2="439.90" y2="425.20" stroke="#bd2c2c" stroke-width="1.8" />
<line x1="432.10" y1="465.00" x2="439.90" y2="465.00" stroke="#bd2c2c" stroke-width="1.8" />
<line x1="457.50" y1="482.20" x2="457.50" y2="502.00" stroke="#1a1a1a" stroke-width="2.2" />
<line x1="453.60" y1="482.20" x2="461.40" y2="482.20" stroke="#1a1a1a" stroke-width="2.2" />
<line x1="453.60" y1="502.00" x2="461.40" y2="502.00" stroke="#1a1a1a" stroke-width="2.2" />
<line x1="479.00" y1="502.00" x2="479.00" y2="510.70" stroke="#bd2c2c" stroke-width="1.8" />
<line x1="475.10" y1="502.00" x2="482.90" y2="502.00" stroke="#bd2c2c" stroke-width="1.8" />
<line x1="475.10" y1="510.70" x2="482.90" y2="510.70" stroke="#bd2c2c" stroke-width="1.8" />
<line x1="315.00" y1="435.30" x2="488.50" y2="435.30" stroke="#2e2e2e" stroke-width="2.0" stroke-dasharray="6.8 6.05"/>
<text x="476.40" y="432.00" font-size="12.3" text-anchor="start" font-weight="bold" font-style="normal" fill="#4a4a4a" >SD</text>
<polygon points="455.00,348.70 455.73,350.59 457.76,350.70 456.19,351.99 456.70,353.95 455.00,352.85 453.30,353.95 453.81,351.99 452.24,350.70 454.27,350.59" fill="#2e2e2e"/>
<polygon points="460.70,348.70 461.43,350.59 463.46,350.70 461.89,351.99 462.40,353.95 460.70,352.85 459.00,353.95 459.51,351.99 457.94,350.70 459.97,350.59" fill="#2e2e2e"/>
<polygon points="475.30,348.70 476.03,350.59 478.06,350.70 476.49,351.99 477.00,353.95 475.30,352.85 473.60,353.95 474.11,351.99 472.54,350.70 474.57,350.59" fill="#2e2e2e"/>
<polygon points="481.00,348.70 481.73,350.59 483.76,350.70 482.19,351.99 482.70,353.95 481.00,352.85 479.30,353.95 479.81,351.99 478.24,350.70 480.27,350.59" fill="#2e2e2e"/>
<line x1="315.00" y1="263.18" x2="315.00" y2="529.90" stroke="#1a1a1a" stroke-width="2.0" />
<line x1="308.00" y1="264.18" x2="315.00" y2="264.18" stroke="#1a1a1a" stroke-width="2.0" />
<line x1="308.00" y1="330.36" x2="315.00" y2="330.36" stroke="#1a1a1a" stroke-width="2.0" />
<line x1="308.00" y1="396.54" x2="315.00" y2="396.54" stroke="#1a1a1a" stroke-width="2.0" />
<line x1="308.00" y1="462.72" x2="315.00" y2="462.72" stroke="#1a1a1a" stroke-width="2.0" />
<line x1="308.00" y1="528.90" x2="315.00" y2="528.90" stroke="#1a1a1a" stroke-width="2.0" />
<line x1="308.00" y1="528.90" x2="492.30" y2="528.90" stroke="#1a1a1a" stroke-width="2.0" />
<text x="327.90" y="545.90" font-size="12.5" text-anchor="middle" font-weight="normal" font-style="normal" fill="#2a2a2a" >EE</text>
<text x="349.40" y="545.90" font-size="12.5" text-anchor="middle" font-weight="normal" font-style="normal" fill="#2a2a2a" >KK</text>
<text x="370.90" y="545.90" font-size="12.5" text-anchor="middle" font-weight="normal" font-style="normal" fill="#2a2a2a" >EE</text>
<text x="392.40" y="545.90" font-size="12.5" text-anchor="middle" font-weight="normal" font-style="normal" fill="#2a2a2a" >KK</text>
<text x="413.90" y="545.90" font-size="12.5" text-anchor="middle" font-weight="normal" font-style="normal" fill="#2a2a2a" >EE</text>
<text x="435.40" y="545.90" font-size="12.5" text-anchor="middle" font-weight="normal" font-style="normal" fill="#2a2a2a" >KK</text>
<text x="456.90" y="545.90" font-size="12.5" text-anchor="middle" font-weight="normal" font-style="normal" fill="#2a2a2a" >EE</text>
<text x="478.40" y="545.90" font-size="12.5" text-anchor="middle" font-weight="normal" font-style="normal" fill="#2a2a2a" >KK</text>
<text x="338.60" y="559.90" font-size="12" text-anchor="middle" font-weight="normal" font-style="italic" fill="#2a2a2a" >female</text>
<text x="381.80" y="559.90" font-size="12" text-anchor="middle" font-weight="normal" font-style="italic" fill="#2a2a2a" >male</text>
<text x="424.90" y="559.90" font-size="12" text-anchor="middle" font-weight="normal" font-style="italic" fill="#2a2a2a" >female</text>
<text x="468.20" y="559.90" font-size="12" text-anchor="middle" font-weight="normal" font-style="italic" fill="#2a2a2a" >male</text>
<line x1="317.30" y1="565.30" x2="400.40" y2="565.30" stroke="#1a1a1a" stroke-width="2.0" />
<line x1="405.00" y1="565.30" x2="487.70" y2="565.30" stroke="#1a1a1a" stroke-width="2.0" />
<text x="359.80" y="578.10" font-size="12" text-anchor="middle" font-weight="bold" font-style="normal" fill="#1a1a1a" >SD</text>
<text x="446.70" y="578.10" font-size="12" text-anchor="middle" font-weight="bold" font-style="normal" fill="#1a1a1a" >HFD</text>
</svg></body></html>
